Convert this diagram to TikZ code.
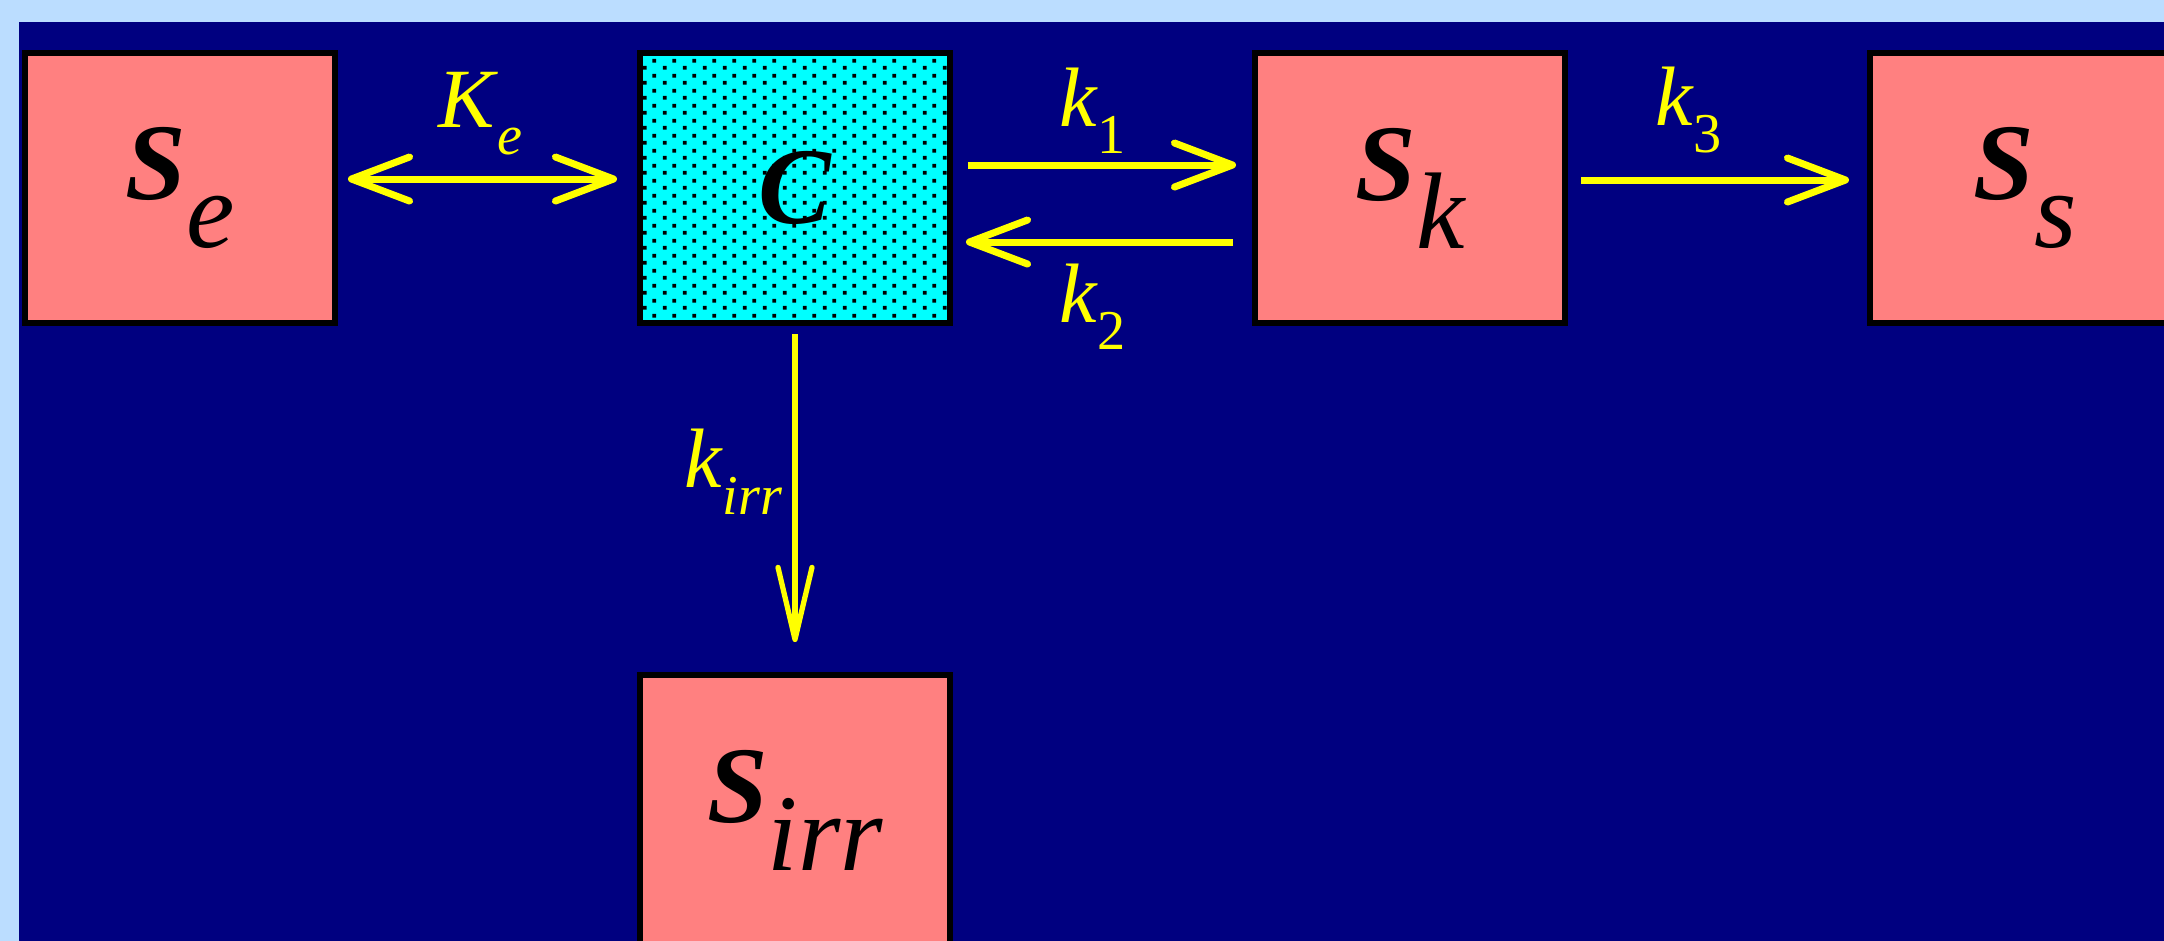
\documentclass[tikz,border=0pt]{standalone}
\usepackage{fontspec}
\setmainfont{Liberation Serif}
\usetikzlibrary{arrows.meta, patterns.meta}

\definecolor{paleblue}{HTML}{BBDDFF}
\definecolor{panel}{HTML}{000080}
\definecolor{salmon}{HTML}{FF8080}
\definecolor{aqua}{HTML}{00FFFF}
\definecolor{flowyellow}{HTML}{FFFF00}

\newcommand{\poolname}[2]{{\bfseries\itshape #1}\raisebox{-0.48cm}{\itshape #2}}
\newcommand{\ratename}[2]{\textit{#1}\raisebox{-0.27cm}{\fontsize{16}{16}\selectfont #2}}

\tikzdeclarepattern{
  name=cdots,
  type=uncolored,
  bounding box={(0,0) and (2mm,1.5mm)},
  tile size={(2mm,1.5mm)},
  code={
    \pgfpathrectangle{\pgfpoint{0.3mm}{0.15mm}}{\pgfpoint{0.4mm}{0.4mm}}
    \pgfpathrectangle{\pgfpoint{1.3mm}{0.9mm}}{\pgfpoint{0.4mm}{0.4mm}}
    \pgfusepath{fill}
  }
}

\tikzset{
  pool/.style={draw=black, line width=1.7pt, fill=salmon, minimum width=3.1cm,
    minimum height=2.7cm, inner sep=0pt, font=\fontsize{31}{31}\selectfont},
  flow/.style={draw=flowyellow, line width=2pt},
  rate/.style={text=flowyellow, inner sep=0pt, font=\fontsize{24}{24}\selectfont},
}

\begin{document}
\begin{tikzpicture}[>={Straight Barb[length=5.8mm,width=4.4mm,round]}]
\useasboundingbox (0,0) rectangle (21.64,-9.40);
% background
\fill[paleblue] (-0.1,0.1) rectangle (21.8,-9.6);
\fill[panel] (0.19,-0.22) rectangle (21.8,-9.6);

% pools
\node[pool] (Se) at (1.80,-1.88) {\poolname{S}{e}};
\node[pool, preaction={fill=aqua}, pattern=cdots, pattern color=black] (C) at (7.95,-1.88) {\textit{\textbf{C}}};
\node[pool] (Sk) at (14.10,-1.88) {\poolname{S}{k}};
\node[pool] (Ss) at (20.25,-1.88) {\poolname{S}{s}};
\node[pool] (Sirr) at (7.95,-8.10) {\poolname{S}{irr}};

% rates
\draw[flow, <->, shorten <=1mm, shorten >=2mm] ([yshift=0.9mm]Se.east) -- ([yshift=0.9mm]C.west)
  node[rate, midway, above=2mm, xshift=-0.7mm] {\ratename{K}{\textit{e}}};
\draw[flow, ->, shorten <=1.5mm, shorten >=1.6mm] ([yshift=2.3mm]C.east) -- ([yshift=2.3mm]Sk.west)
  node[rate, midway, above=0.8mm, xshift=-1mm] {\ratename{k}{1}};
\draw[flow, ->, shorten <=1.9mm, shorten >=1.3mm] ([yshift=-5.4mm]Sk.west) -- ([yshift=-5.4mm]C.east)
  node[rate, midway, below=1.8mm, xshift=-1mm] {\ratename{k}{2}};
\draw[flow, ->, shorten <=1.3mm, shorten >=1.8mm] ([yshift=0.8mm]Sk.east) -- ([yshift=0.8mm]Ss.west)
  node[rate, midway, above=2.3mm, xshift=-2.9mm] {\ratename{k}{3}};
\draw[flow, ->, line width=1.5pt, >={Straight Barb[length=7.2mm,width=3.4mm,round]},
  shorten <=0.8mm, shorten >=3mm] (C.south) -- (Sirr.north)
  node[rate, pos=0.42, left=1mm] {\ratename{k}{\textit{irr}}};
\end{tikzpicture}
\end{document}
